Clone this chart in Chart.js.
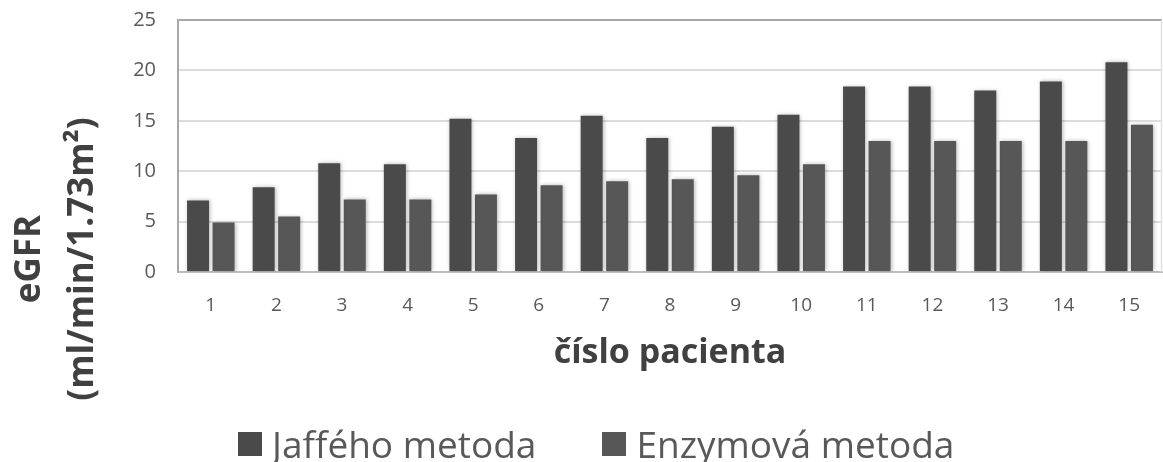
<!DOCTYPE html>
<html>
<head>
<meta charset="utf-8">
<script src="https://cdn.jsdelivr.net/npm/chart.js@4/dist/chart.umd.min.js"></script>
<style>
  html, body { margin: 0; padding: 0; background: #fff; overflow: hidden; }
  #wrap { position: relative; width: 1163px; height: 462px; }
  #legend {
    position: absolute; left: 238px; top: 424px;
    display: flex; align-items: center;
    font-family: 'Open Sans', sans-serif; font-size: 37px; line-height: 40px; color: #595959;
  }
  #legend .item { display: flex; align-items: center; margin-right: 66px; }
  #legend .box { width: 24px; height: 24px; margin-right: 10px; }
</style>
</head>
<body>
<div id="wrap">
  <canvas id="c" width="1163" height="462"></canvas>
  <div id="legend"></div>
</div>
<script>
// eGFR per patient, two creatinine methods
const patients = ['1', '2', '3', '4', '5', '6', '7', '8', '9', '10', '11', '12', '13', '14', '15'];
const jaffe  = [7.1, 8.4, 10.8, 10.7, 15.2, 13.3, 15.5, 13.3, 14.4, 15.6, 18.4, 18.4, 18.0, 18.9, 20.8];
const enzym  = [4.9, 5.5, 7.2, 7.2, 7.7, 8.6, 9.0, 9.2, 9.6, 10.7, 13.0, 13.0, 13.0, 13.0, 14.6];
const seriesNames = ['Jaffého metoda', 'Enzymová metoda'];
const yTicks = [0, 5, 10, 15, 20, 25];
const yTitle = ['eGFR', '(ml/min/1.73m²)'];
const xTitle = 'číslo pacienta';

const FONT = "'Open Sans', sans-serif";

// soft shadow under the bars
const barShadow = {
  id: 'barShadow',
  beforeDatasetsDraw(chart) {
    const ctx = chart.ctx;
    ctx.save();
    ctx.shadowColor = 'rgba(0,0,0,0.28)';
    ctx.shadowBlur = 4;
    ctx.shadowOffsetX = 1;
    ctx.shadowOffsetY = 0;
  },
  afterDatasetsDraw(chart) { chart.ctx.restore(); }
};

// right edge of the plot frame and the two-line rotated y title
const frameAndTitle = {
  id: 'frameAndTitle',
  afterDraw(chart) {
    const { ctx, chartArea: a } = chart;
    ctx.save();
    ctx.strokeStyle = '#e0e0e0';
    ctx.lineWidth = 1.5;
    ctx.beginPath();
    ctx.moveTo(a.right - 0.5, a.top);
    ctx.lineTo(a.right - 0.5, a.bottom);
    ctx.stroke();

    ctx.fillStyle = '#404040';
    ctx.font = 'bold 35px ' + FONT;
    ctx.textAlign = 'center';
    ctx.textBaseline = 'middle';
    const xs = [30, 83];
    yTitle.forEach((t, i) => {
      ctx.save();
      ctx.translate(xs[i], 259);
      ctx.rotate(-Math.PI / 2);
      ctx.fillText(t, 0, 0);
      ctx.restore();
    });
    ctx.restore();
  }
};

const chart = new Chart(document.getElementById('c'), {
  type: 'bar',
  data: {
    labels: patients,
    datasets: [
      { label: seriesNames[0], data: jaffe, backgroundColor: '#4a4a4a' },
      { label: seriesNames[1], data: enzym, backgroundColor: '#575757' }
    ]
  },
  options: {
    responsive: false,
    animation: false,
    devicePixelRatio: 1,
    layout: { padding: { top: 20, right: 1, bottom: 0, left: 0 } },
    datasets: { bar: { categoryPercentage: 0.777, barPercentage: 0.863 } },
    plugins: {
      legend: { display: false },
      tooltip: { enabled: false }
    },
    scales: {
      x: {
        grid: { display: false, drawTicks: false },
        border: { color: '#bdbdbd', width: 2 },
        ticks: { color: '#595959', font: { family: FONT, size: 19 }, padding: 22 },
        title: {
          display: true, text: xTitle, color: '#404040',
          font: { family: FONT, size: 34, weight: 'bold' },
          padding: { top: 0, bottom: 88 }
        },
        afterFit(s) { s.height = 190; }
      },
      y: {
        min: 0, max: 25,
        afterBuildTicks(s) { s.ticks = yTicks.map(v => ({ value: v })); },
        grid: {
          drawTicks: false,
          lineWidth: 2,
          color: c => (c.tick && c.tick.value === 25) ? '#a8a8a8' : '#dcdcdc'
        },
        border: { color: '#a8a8a8', width: 2 },
        ticks: { color: '#595959', font: { family: FONT, size: 20 }, padding: 22 },
        afterFit(s) { s.width = 178; s.paddingTop = 0; s.paddingBottom = 0; }
      }
    }
  },
  plugins: [barShadow, frameAndTitle]
});

// legend built from the datasets
const legendEl = document.getElementById('legend');
chart.data.datasets.forEach(ds => {
  const item = document.createElement('div');
  item.className = 'item';
  const box = document.createElement('span');
  box.className = 'box';
  box.style.background = ds.backgroundColor;
  const txt = document.createElement('span');
  txt.textContent = ds.label;
  item.appendChild(box);
  item.appendChild(txt);
  legendEl.appendChild(item);
});
</script>
</body>
</html>
